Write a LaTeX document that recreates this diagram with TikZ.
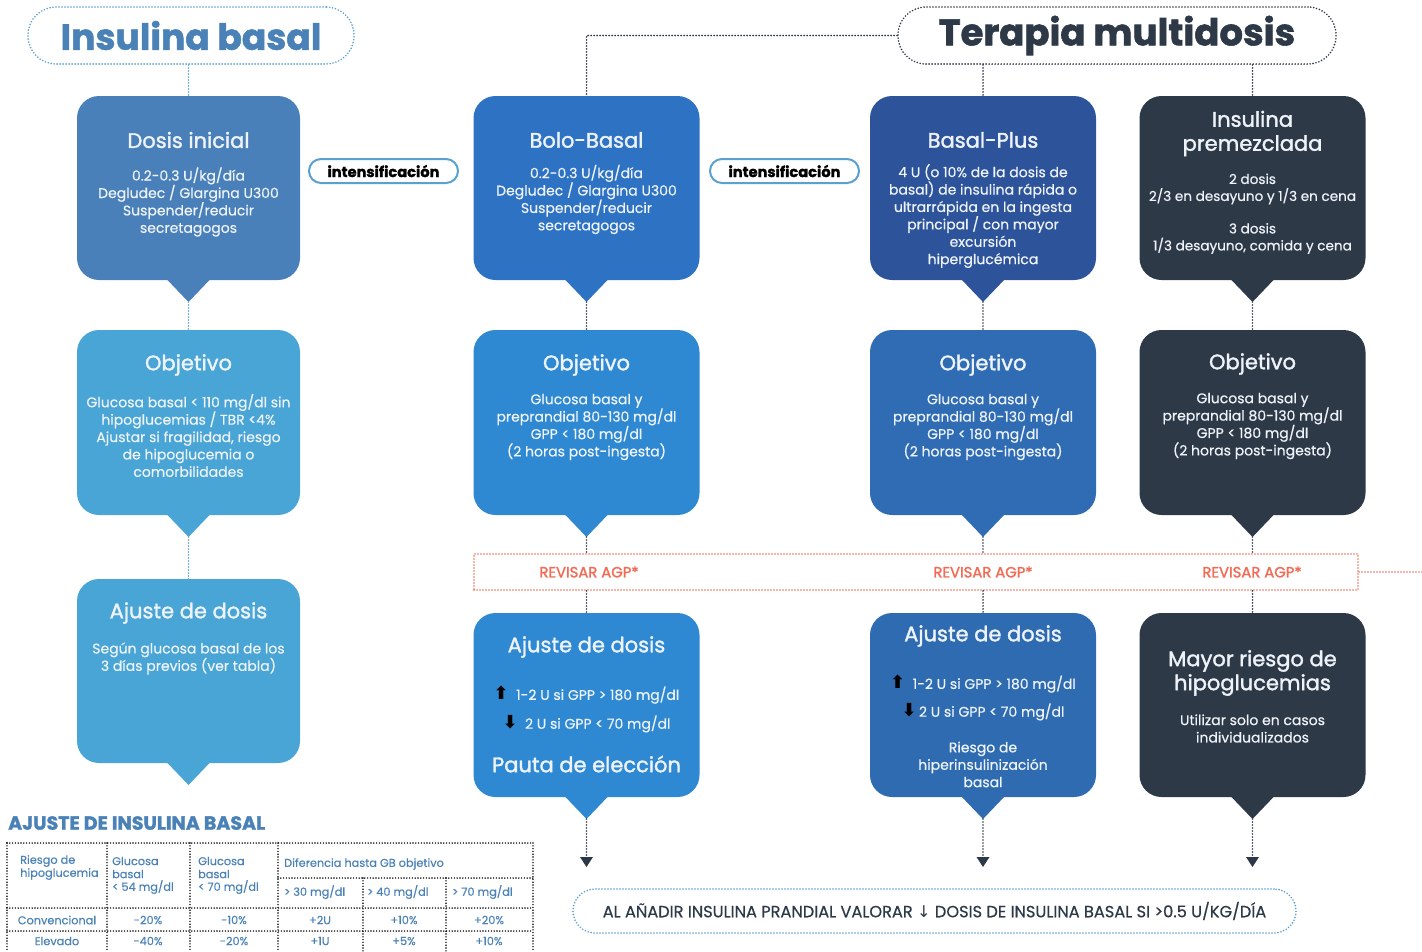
\documentclass[tikz,border=0pt]{standalone}
\usepackage{fontspec}
\setmainfont{Poppins}
\newfontfamily\pmed{Poppins}[FakeBold=1.6]
\newfontfamily\pbody{Poppins}[FakeBold=0.5]
\newfontfamily\pheavy{Poppins}[BoldFeatures={FakeBold=1.5}]
\newfontfamily\dejavu{DejaVu Sans}
\usetikzlibrary{calc,arrows.meta}
\definecolor{hblue}{HTML}{4A82B8}
\definecolor{hdark}{HTML}{2E3948}
\definecolor{cOneA}{HTML}{4A80B9}
\definecolor{cOneB}{HTML}{48A5D5}
\definecolor{cTwoA}{HTML}{2E72C4}
\definecolor{cTwoB}{HTML}{2E89D2}
\definecolor{cThrA}{HTML}{2D549B}
\definecolor{cThrB}{HTML}{2F6CB4}
\definecolor{cThrC}{HTML}{2E6BB1}
\definecolor{cFour}{HTML}{2E3948}
\definecolor{lblue}{HTML}{5AA0D0}
\definecolor{revc}{HTML}{F26B55}
\definecolor{btext}{HTML}{EEF3FA}
\newcommand\mktip[2]{%
  \fill[#2] ($(#1.south)+(-22,-1)$) -- ($(#1.south)+(22,-1)$) -- ($(#1.south)+(0,22)$) -- cycle;
  \coordinate (#1t) at ($(#1.south)+(0,22)$);}
\newcommand\upa{{\dejavu\bfseries\color{black}\fontsize{18}{17}\selectfont ⬆}}
\newcommand\dna{{\dejavu\bfseries\color{black}\fontsize{18}{17}\selectfont ⬇}}
\begin{document}
\begin{tikzpicture}[x=1pt,y=-1pt,
  box/.style={rounded corners=22pt, minimum width=226pt, minimum height=184pt, inner sep=0pt, outer sep=0pt},
  ttl/.style={text=btext, font=\pmed\fontsize{21}{24}\selectfont, align=center, inner sep=0pt},
  bdy/.style={text=btext, font=\pbody\fontsize{14}{17.4}\selectfont, align=center, inner sep=0pt},
  dotsL/.style={draw=lblue, line width=1.8pt, dash pattern=on 0pt off 3pt, line cap=round},
  dotsD/.style={draw=hdark, line width=1.8pt, dash pattern=on 0pt off 3pt, line cap=round},
  dotsR/.style={draw=revc, line width=1.8pt, dash pattern=on 0pt off 3pt, line cap=round},
  dotsK/.style={draw=black, line width=1.6pt, dash pattern=on 0pt off 2.8pt, line cap=round},
  intpill/.style={draw=lblue, fill=white, line width=2pt, rounded corners=12pt, minimum width=149pt, minimum height=24pt, inner sep=0pt, font=\pheavy\bfseries\fontsize{14.6}{16}\selectfont},
  tb/.style={text=hblue, font=\pbody\fontsize{11.3}{12}\selectfont, inner sep=0pt},
  revt/.style={text=revc, font=\pmed\fontsize{14.8}{16}\selectfont, inner sep=0pt}]
\useasboundingbox (0,0) rectangle (1422,951);

% headers
\node[dotsL, rounded corners=28pt, minimum width=326pt, minimum height=57pt, inner sep=0pt,
  text=hblue, font=\pheavy\bfseries\fontsize{36}{40}\selectfont] (hb) at (191,35.5) {Insulina basal};
\node[dotsD, rounded corners=28pt, minimum width=438pt, minimum height=57pt, inner sep=0pt,
  text=hdark, font=\pheavy\bfseries\fontsize{37}{40}\selectfont] (ht) at (1117,35.5) {Terapia multidosis};

% boxes
\node[box, fill=cOneA, minimum width=223pt] (b11) at (188.5,188) {};
\node[box, fill=cOneB, minimum width=223pt, minimum height=185pt] (b12) at (188.5,422.5) {};
\node[box, fill=cOneB, minimum width=223pt] (b13) at (188.5,671) {};
\node[box, fill=cTwoA] (b21) at (586.5,188) {};
\node[box, fill=cTwoB, minimum height=185pt] (b22) at (586.5,422.5) {};
\node[box, fill=cTwoB] (b23) at (586.5,705) {};
\node[box, fill=cThrA] (b31) at (983,188) {};
\node[box, fill=cThrB, minimum height=185pt] (b32) at (983,422.5) {};
\node[box, fill=cThrC] (b33) at (983,705) {};
\node[box, fill=cFour] (b41) at (1252.5,188) {};
\node[box, fill=cFour, minimum height=185pt] (b42) at (1252.5,422.5) {};
\node[box, fill=cFour] (b43) at (1252.5,705) {};
\mktip{b11}{cOneA}\mktip{b12}{cOneB}\mktip{b13}{cOneB}
\mktip{b21}{cTwoA}\mktip{b22}{cTwoB}\mktip{b23}{cTwoB}
\mktip{b31}{cThrA}\mktip{b32}{cThrB}\mktip{b33}{cThrC}
\mktip{b41}{cFour}\mktip{b42}{cFour}\mktip{b43}{cFour}

% column 1 texts
\node[ttl] (t11) at (188.5,140) {Dosis inicial};
\node[bdy] (d11) at (188.5,202) {0.2-0.3 U/kg/día\\Degludec / Glargina U300\\Suspender/reducir\\secretagogos};
\node[ttl] (t12) at (188.5,365) {Objetivo};
\node[bdy] (d12) at (188.5,435.5) {Glucosa basal < 110 mg/dl sin\\hipoglucemias / TBR <4\%\\Ajustar si fragilidad, riesgo\\de hipoglucemia o\\comorbilidades};
\node[ttl] (t13) at (188.5,613) {Ajuste de dosis};
\node[bdy] (d13) at (188.5,658.5) {Según glucosa basal de los\\3 días previos (ver tabla)};

% column 2 texts
\node[ttl] (t21) at (586.5,140) {Bolo-Basal};
\node[bdy] (d21) at (586.5,199.5) {0.2-0.3 U/kg/día\\Degludec / Glargina U300\\Suspender/reducir\\secretagogos};
\node[ttl] (t22) at (586.5,365) {Objetivo};
\node[bdy] (d22) at (586.5,427) {Glucosa basal y\\preprandial 80-130 mg/dl\\GPP < 180 mg/dl\\(2 horas post-ingesta)};
\node[ttl] (t23) at (586.5,647) {Ajuste de dosis};
\node[bdy] (u23) at (586.5,695) {\upa\ \ 1-2 U si GPP > 180 mg/dl};
\node[bdy] (w23) at (586.5,724) {\dna\ \ 2 U si GPP < 70 mg/dl};
\node[ttl] (p23) at (586.5,764) {Pauta de elección};

% column 3 texts
\node[ttl] (t31) at (983,140) {Basal-Plus};
\node[bdy] (d31) at (983,216) {4 U (o 10\% de la dosis de\\basal) de insulina rápida o\\ultrarrápida en la ingesta\\principal / con mayor\\excursión\\hiperglucémica};
\node[ttl] (t32) at (983,365) {Objetivo};
\node[bdy] (d32) at (983,427) {Glucosa basal y\\preprandial 80-130 mg/dl\\GPP < 180 mg/dl\\(2 horas post-ingesta)};
\node[ttl] (t33) at (983,636) {Ajuste de dosis};
\node[bdy] (u33) at (983,684) {\upa\ \ 1-2 U si GPP > 180 mg/dl};
\node[bdy] (w33) at (983,712) {\dna\,2 U si GPP < 70 mg/dl};
\node[bdy] (r33) at (983,764.5) {Riesgo de\\hiperinsulinización\\basal};

% column 4 texts
\node[ttl] (t41) at (1252.5,133.5) {Insulina\\premezclada};
\node[bdy, font=\pbody\fontsize{13.6}{17}\selectfont] (d41) at (1252.5,189) {2 dosis\\2/3 en desayuno y 1/3 en cena};
\node[bdy, font=\pbody\fontsize{13.6}{17}\selectfont] (e41) at (1252.5,238.5) {3 dosis\\1/3 desayuno, comida y cena};
\node[ttl] (t42) at (1252.5,364) {Objetivo};
\node[bdy] (d42) at (1252.5,426) {Glucosa basal y\\preprandial 80-130 mg/dl\\GPP < 180 mg/dl\\(2 horas post-ingesta)};
\node[ttl] (t43) at (1252.5,673) {Mayor riesgo de\\hipoglucemias};
\node[bdy] (d43) at (1252.5,728.5) {Utilizar solo en casos\\individualizados};

% intensificacion pills
\node[intpill] (i1) at (383.5,171) {intensificación};
\node[intpill] (i2) at (784.5,171) {intensificación};

% revisar box
\node[dotsR, minimum width=884pt, minimum height=36pt, inner sep=0pt] (rev) at (916,572) {};
\node[revt] (rv2) at (589,572) {REVISAR AGP*};
\node[revt] (rv3) at (983,572) {REVISAR AGP*};
\node[revt] (rv4) at (1252,572) {REVISAR AGP*};
\coordinate (revend) at (1422,572);
\draw[dotsR] (rev.east) -- (revend);

% connectors top
\draw[dotsL] (b11.north |- hb.south) -- (b11.north);
\draw[dotsD] (ht.west) -- (ht.west -| b21.north) -- (b21.north);
\draw[dotsD] (b31.north |- ht.south) -- (b31.north);
\draw[dotsD] (b41.north |- ht.south) -- (b41.north);

% column connectors
\draw[dotsL] (b11t) -- (b12.north);
\draw[dotsL] (b12t) -- (b13.north);
\foreach \c in {2,3,4}{
  \draw[dotsD] (b\c1t) -- (b\c2.north);
  \draw[dotsD] (b\c2t) -- (b\c2t |- rev.north);
  \draw[dotsD] (b\c3.north |- rev.south) -- (b\c3.north);
  \coordinate (e\c) at ($(b\c3t)+(0,48)$);
  \draw[dotsD] (b\c3t) -- ($(e\c)+(0,-9)$);
  \fill[hdark] (e\c) -- ++(-6.5,-10) -- ++(13,0) -- cycle;
}

% bottom note
\node[dotsL, rounded corners=22pt, minimum width=723pt, minimum height=44pt, inner sep=0pt,
  text=hdark, font=\pbody\fontsize{16.2}{18}\selectfont] (note) at (934.5,911)
  {AL AÑADIR INSULINA PRANDIAL VALORAR {\dejavu ↓} DOSIS DE INSULINA BASAL SI >0.5 U/KG/DÍA};

% table
\node[anchor=west, text=hblue, font=\pheavy\bfseries\fontsize{19}{21}\selectfont, inner sep=0pt] (tabt) at (8,823) {AJUSTE DE INSULINA BASAL};
\draw[dotsK] (7,843) -- (533,843);
\draw[dotsK] (278,878) -- (533,878);
\draw[dotsK] (7,908) -- (533,908);
\draw[dotsK] (7,931) -- (533,931);
\foreach \x in {7,107,190,278,533}{\draw[dotsK] (\x,843) -- (\x,951);}
\foreach \x in {363,446}{\draw[dotsK] (\x,878) -- (\x,951);}
\node[tb, anchor=west] (h1a) at (20,861) {Riesgo de};
\node[tb, anchor=west] (h1b) at (20,874) {hipoglucemia};
\node[tb, anchor=west] (h2a) at (112,861) {Glucosa};
\node[tb, anchor=west] (h2b) at (112,874) {basal};
\node[tb, anchor=west] (h2c) at (112,887) {< 54 mg/dl};
\node[tb, anchor=west] (h3a) at (198,861) {Glucosa};
\node[tb, anchor=west] (h3b) at (198,874) {basal};
\node[tb, anchor=west] (h3c) at (198,887) {< 70 mg/dl};
\node[tb, anchor=west] (h4) at (284,864) {Diferencia hasta GB objetivo};
\node[tb, anchor=west] (h5) at (284,892) {> 30 mg/dl};
\node[tb, anchor=west] (h6) at (367,892) {> 40 mg/dl};
\node[tb, anchor=west] (h7) at (452,892) {> 70 mg/dl};
\node[tb] (r1a) at (57,920) {Convencional};
\node[tb] (r1b) at (148,920) {-20\%};
\node[tb] (r1c) at (234,920) {-10\%};
\node[tb] (r1d) at (320,920) {+2U};
\node[tb] (r1e) at (404,920) {+10\%};
\node[tb] (r1f) at (489,920) {+20\%};
\node[tb] (r2a) at (57,941) {Elevado};
\node[tb] (r2b) at (148,941) {-40\%};
\node[tb] (r2c) at (234,941) {-20\%};
\node[tb] (r2d) at (320,941) {+1U};
\node[tb] (r2e) at (404,941) {+5\%};
\node[tb] (r2f) at (489,941) {+10\%};
\end{tikzpicture}
\end{document}
